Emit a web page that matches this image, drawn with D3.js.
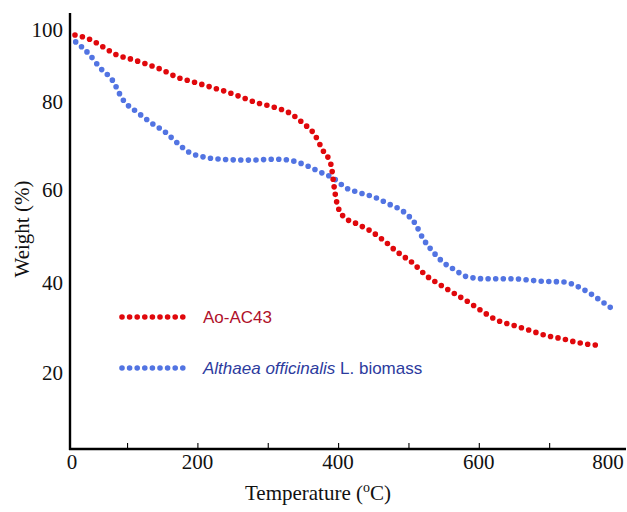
<!DOCTYPE html>
<html>
<head>
<meta charset="utf-8">
<script src="https://cdn.jsdelivr.net/npm/d3@7"></script>
<style>
  html, body { margin: 0; padding: 0; background: #fff; }
  svg { display: block; }
</style>
</head>
<body>
<svg id="chart" width="627" height="512"></svg>
<script>
// ---- data ----
const redTemp = [26, 46, 66, 83, 106, 127, 150, 171, 194, 218, 242, 262, 285, 307, 331, 350, 367, 378, 390, 394, 398, 407, 427, 446, 466, 483, 506, 526, 545, 566, 587, 606, 625, 647, 670, 694, 719, 743, 768, 776];
const redWeight = [98.6, 97.5, 95.3, 93.3, 91.9, 90.6, 88.9, 86.9, 85.6, 84.2, 82.8, 81.4, 79.8, 78.9, 77.5, 75.2, 72.5, 69.1, 65.7, 61.1, 57.4, 54.4, 52.7, 51.2, 49.0, 46.8, 44.3, 41.5, 39.6, 37.6, 35.6, 33.6, 31.8, 30.7, 29.6, 28.4, 27.6, 26.7, 26.2, 26.2];
const blueTemp = [27, 46, 62, 79, 94, 116, 135, 154, 170, 188, 209, 232, 272, 315, 336, 356, 374, 393, 411, 431, 451, 472, 495, 509, 521, 535, 549, 566, 584, 611, 648, 687, 722, 747, 774, 792];
const blueWeight = [96.7, 93.3, 89.4, 86.1, 80.7, 77.5, 75.2, 73.2, 70.9, 68.6, 67.5, 67.0, 66.8, 67.0, 66.6, 65.5, 64.1, 62.7, 60.5, 59.4, 58.5, 57.0, 55.1, 52.9, 49.5, 46.7, 44.5, 42.8, 41.3, 40.9, 40.9, 40.4, 40.2, 38.7, 36.0, 34.0];
const xTickValues = [100, 200, 300, 400, 500, 600, 700];
const xLabelValues = [0, 200, 400, 600, 800];
const yLabelValues = [20, 40, 60, 80, 100];
const seriesNames = ["Ao-AC43", "Althaea officinalis", " L. biomass"];
const xTitle = "Temperature (";
const yTitle = "Weight (%)";

// ---- layout ----
const svg = d3.select("#chart");
const axisLeftX = 70, axisTop = 13, axisBottomY = 449, axisRightX = 626;
const serif = "'Liberation Serif', 'Times New Roman', serif";
const sans = "'Liberation Sans', Arial, sans-serif";
const redColor = "#e0080c", blueColor = "#5274e2";

const x = d3.scaleLinear().domain([0, 800]).range([56.7, 619.5]);
// the original figure's y labels are unevenly spaced: piecewise scale
const y = d3.scaleLinear().domain([20, 40, 60, 80, 100]).range([373, 283, 190, 102, 30]);

// ---- axes ----
svg.append("line")
  .attr("x1", axisLeftX).attr("x2", axisLeftX)
  .attr("y1", axisTop).attr("y2", axisBottomY + 1)
  .attr("stroke", "#000").attr("stroke-width", 2.4);
svg.append("line")
  .attr("x1", axisLeftX - 1).attr("x2", axisRightX)
  .attr("y1", axisBottomY).attr("y2", axisBottomY)
  .attr("stroke", "#000").attr("stroke-width", 2.4);

const xAxis = d3.axisTop(x).tickValues(xTickValues).tickSize(6).tickFormat("");
const gx = svg.append("g").attr("transform", `translate(0,${axisBottomY})`).call(xAxis);
gx.select(".domain").remove();
gx.selectAll(".tick line").attr("stroke", "#000").attr("stroke-width", 1.1);

svg.append("g").selectAll("text").data(xLabelValues).join("text")
  .attr("x", d => Math.min(Math.max(x(d), axisLeftX + 2), 608))
  .attr("y", 469)
  .attr("text-anchor", "middle")
  .attr("font-family", serif).attr("font-size", 21)
  .attr("fill", "#111")
  .text(d => d);

svg.append("g").selectAll("text").data(yLabelValues).join("text")
  .attr("x", 63)
  .attr("y", d => y(d) + 7)
  .attr("text-anchor", "end")
  .attr("font-family", serif).attr("font-size", 21)
  .attr("fill", "#111")
  .text(d => d);

// axis titles
const xt = svg.append("text")
  .attr("x", 318).attr("y", 500)
  .attr("text-anchor", "middle")
  .attr("font-family", serif).attr("font-size", 21).attr("fill", "#111");
xt.append("tspan").text(xTitle);
xt.append("tspan").attr("font-size", 14).attr("dy", -8).text("o");
xt.append("tspan").attr("dy", 8).text("C)");

svg.append("text")
  .attr("transform", "translate(29,229) rotate(-90)")
  .attr("text-anchor", "middle")
  .attr("font-family", serif).attr("font-size", 21).attr("fill", "#111")
  .text(yTitle);

// ---- dotted curves ----
const line = d3.line().x(d => x(d[0])).y(d => y(d[1])).curve(d3.curveMonotoneX);
const redData = d3.zip(redTemp, redWeight);
const blueData = d3.zip(blueTemp, blueWeight);

function dotted(sel, color) {
  return sel.attr("fill", "none").attr("stroke", color)
    .attr("stroke-width", 5.6).attr("stroke-linecap", "round")
    .attr("stroke-dasharray", "0 7.6");
}
dotted(svg.append("path").attr("d", line(blueData)), blueColor);
dotted(svg.append("path").attr("d", line(redData)), redColor);

// ---- legend ----
const legend = [
  { y: 317, color: redColor, text: "#b0102a" },
  { y: 368, color: blueColor, text: "#2c3b9e" }
];
legend.forEach((l, i) => {
  dotted(svg.append("line").attr("x1", 122).attr("x2", 188)
    .attr("y1", l.y).attr("y2", l.y), l.color);
});
svg.append("text").attr("x", 203).attr("y", 317).attr("dy", "0.35em")
  .attr("font-family", sans).attr("font-size", 17).attr("fill", legend[0].text)
  .text(seriesNames[0]);
const t2 = svg.append("text").attr("x", 203).attr("y", 368).attr("dy", "0.35em")
  .attr("font-family", sans).attr("font-size", 17).attr("fill", legend[1].text);
t2.append("tspan").attr("font-style", "italic").text(seriesNames[1]);
t2.append("tspan").text(seriesNames[2]);
</script>
</body>
</html>
